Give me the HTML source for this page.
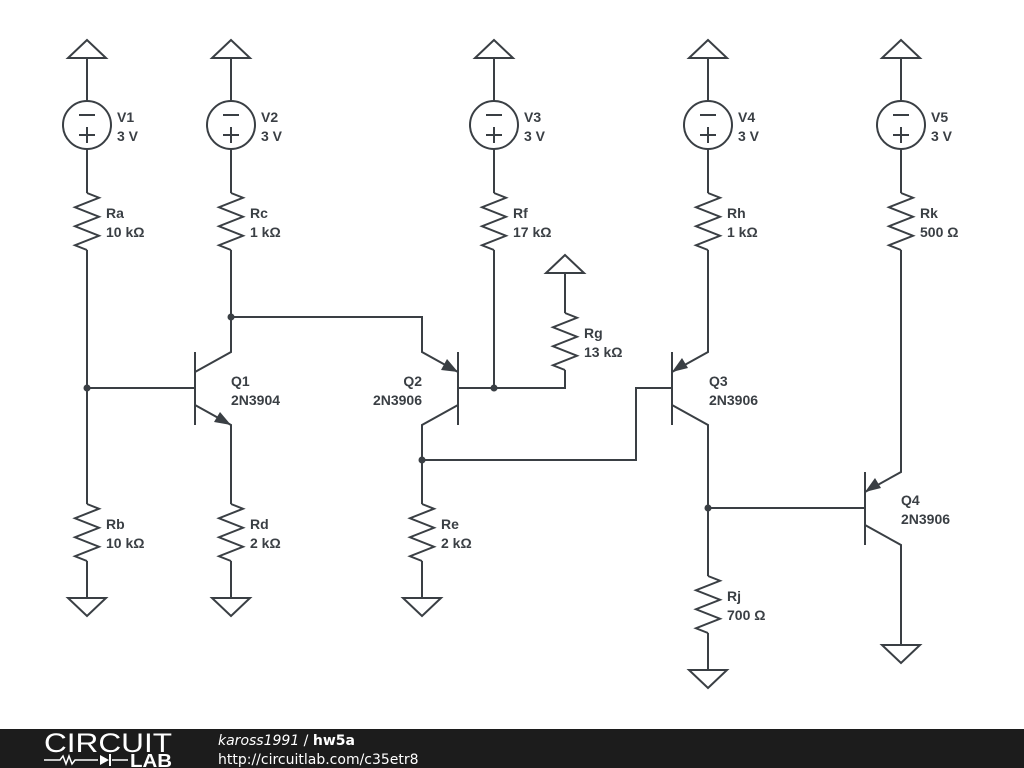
<!DOCTYPE html>
<html><head><meta charset="utf-8"><style>
html,body{margin:0;padding:0;background:#fff;}
svg{display:block;}
text{font-family:"Liberation Sans",Arial,sans-serif;font-size:14px;font-weight:bold;fill:#3a3f44;}
</style></head><body>
<svg width="1024" height="768" viewBox="0 0 1024 768" xmlns="http://www.w3.org/2000/svg">
<g stroke="#3a3f44" stroke-width="2" fill="none" stroke-linejoin="miter">
<polygon points="87,40 68,58 106,58"/>
<polygon points="231,40 212,58 250,58"/>
<polygon points="494,40 475,58 513,58"/>
<polygon points="708,40 689,58 727,58"/>
<polygon points="901,40 882,58 920,58"/>
<polygon points="565,255 546,273 584,273"/>
<circle cx="87" cy="125" r="24"/><circle cx="231" cy="125" r="24"/><circle cx="494" cy="125" r="24"/><circle cx="708" cy="125" r="24"/><circle cx="901" cy="125" r="24"/>
<path d="M87 58V101M87 149V193 M231 58V101M231 149V193 M494 58V101M494 149V193 M708 58V101M708 149V193 M901 58V101M901 149V193"/>
<path d="M79 115H95M79 135H95M87 127V143 M223 115H239M223 135H239M231 127V143 M486 115H502M486 135H502M494 127V143 M700 115H716M700 135H716M708 127V143 M893 115H909M893 135H909M901 127V143"/>
<polyline points="87,193 99,197.75 75,207.25 99,216.75 75,226.25 99,235.75 75,245.25 87,250"/>
<polyline points="231,193 243,197.75 219,207.25 243,216.75 219,226.25 243,235.75 219,245.25 231,250"/>
<polyline points="494,193 506,197.75 482,207.25 506,216.75 482,226.25 506,235.75 482,245.25 494,250"/>
<polyline points="708,193 720,197.75 696,207.25 720,216.75 696,226.25 720,235.75 696,245.25 708,250"/>
<polyline points="901,193 913,197.75 889,207.25 913,216.75 889,226.25 913,235.75 889,245.25 901,250"/>
<polyline points="565,313 577,317.75 553,327.25 577,336.75 553,346.25 577,355.75 553,365.25 565,370"/>
<polyline points="87,504 99,508.75 75,518.25 99,527.75 75,537.25 99,546.75 75,556.25 87,561"/>
<polyline points="231,504 243,508.75 219,518.25 243,527.75 219,537.25 243,546.75 219,556.25 231,561"/>
<polyline points="422,504 434,508.75 410,518.25 434,527.75 410,537.25 434,546.75 410,556.25 422,561"/>
<polyline points="708,576 720,580.75 696,590.25 720,599.75 696,609.25 720,618.75 696,628.25 708,633"/>
<polygon points="68,598 106,598 87,616"/>
<polygon points="212,598 250,598 231,616"/>
<polygon points="403,598 441,598 422,616"/>
<polygon points="689,670 727,670 708,688"/>
<polygon points="882,645 920,645 901,663"/>
<path d="M87 250V504M87 561V598M87 388H195"/>
<path d="M231 250V352L195 372M195 352V425M195 405L231 425V504M231 561V598"/>
<path d="M231 317H422V352L458 372M458 352V425M458 405L422 425V504M422 561V598"/>
<path d="M458 388H565V370M565 273V313M494 250V388"/>
<path d="M422 460H636V388H672M672 352V425"/>
<path d="M708 250V352L672 372M672 405L708 425V576M708 633V670"/>
<path d="M708 508H865M865 472V545M901 250V472L865 492M865 525L901 545V645"/>
</g>
<g fill="#3a3f44">
<circle cx="87" cy="388" r="3.5"/><circle cx="231" cy="317" r="3.5"/><circle cx="494" cy="388" r="3.5"/><circle cx="422" cy="460" r="3.5"/><circle cx="708" cy="508" r="3.5"/>
<polygon points="231,425 214,422 220,412"/>
<polygon points="458,372 441,370 447,359"/>
<polygon points="672,372 682,358 688,368"/>
<polygon points="865,492 875,478 881,488"/>
</g>
<text x="117" y="122">V1</text><text x="117" y="141">3 V</text>
<text x="261" y="122">V2</text><text x="261" y="141">3 V</text>
<text x="524" y="122">V3</text><text x="524" y="141">3 V</text>
<text x="738" y="122">V4</text><text x="738" y="141">3 V</text>
<text x="931" y="122">V5</text><text x="931" y="141">3 V</text>
<text x="106" y="218">Ra</text><text x="106" y="237">10 kΩ</text>
<text x="250" y="218">Rc</text><text x="250" y="237">1 kΩ</text>
<text x="513" y="218">Rf</text><text x="513" y="237">17 kΩ</text>
<text x="727" y="218">Rh</text><text x="727" y="237">1 kΩ</text>
<text x="920" y="218">Rk</text><text x="920" y="237">500 Ω</text>
<text x="584" y="338">Rg</text><text x="584" y="357">13 kΩ</text>
<text x="106" y="529">Rb</text><text x="106" y="548">10 kΩ</text>
<text x="250" y="529">Rd</text><text x="250" y="548">2 kΩ</text>
<text x="441" y="529">Re</text><text x="441" y="548">2 kΩ</text>
<text x="727" y="601">Rj</text><text x="727" y="620">700 Ω</text>
<text x="231" y="386">Q1</text><text x="231" y="405">2N3904</text>
<text x="422" y="386" text-anchor="end">Q2</text><text x="422" y="405" text-anchor="end">2N3906</text>
<text x="709" y="386">Q3</text><text x="709" y="405">2N3906</text>
<text x="901" y="505">Q4</text><text x="901" y="524">2N3906</text>
<rect x="0" y="729" width="1024" height="39" fill="#1c1c1c"/>
<text x="44" y="752" textLength="128" lengthAdjust="spacingAndGlyphs" style="font-size:27px;font-weight:normal;fill:#fff">CIRCUIT</text>
<path d="M44 760H60l3-4 3 8 3-8 3 8 3-4H98M112 760H128" stroke="#fff" stroke-width="1.5" fill="none"/>
<polygon points="100,755 100,765 109,760" fill="#fff"/><path d="M110 754V766" stroke="#fff" stroke-width="2"/>
<text x="130" y="767" textLength="42" lengthAdjust="spacingAndGlyphs" style="font-size:18px;font-weight:bold;fill:#fff">LAB</text>
<text x="218" y="745" style="font-family:'DejaVu Sans',sans-serif;font-size:14px;font-weight:normal;fill:#fff"><tspan font-style="italic">kaross1991</tspan> / <tspan font-weight="bold">hw5a</tspan></text>
<text x="218" y="764" style="font-family:'DejaVu Sans',sans-serif;font-size:14px;font-weight:normal;fill:#fff">http://circuitlab.com/c35etr8</text>
</svg>
</body></html>
